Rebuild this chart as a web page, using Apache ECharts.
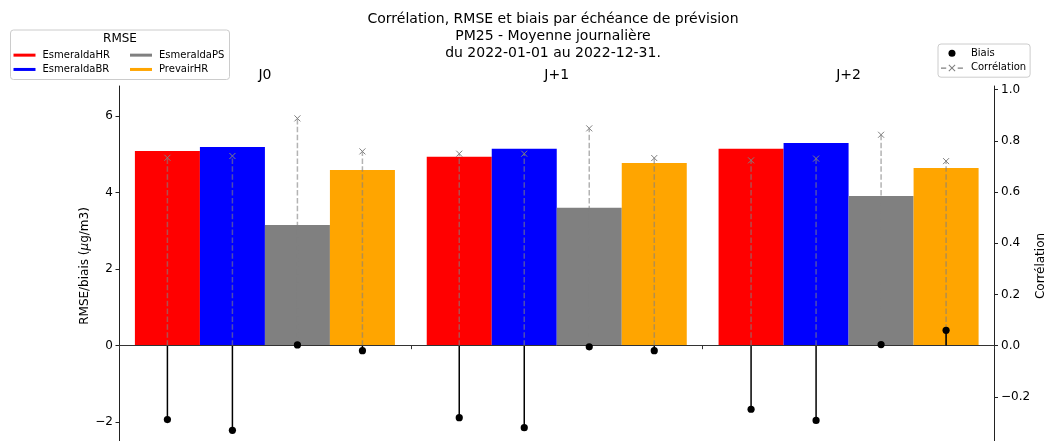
<!DOCTYPE html>
<html>
<head>
<meta charset="utf-8">
<script src="https://cdn.jsdelivr.net/npm/echarts@6/dist/echarts.min.js"></script>
<style>
html,body{margin:0;padding:0;background:#fff;}
#chart{width:1046px;height:441px;}
</style>
</head>
<body>
<div id="chart"></div>
<script>
// ---- data ----
const categories = ['J0', 'J+1', 'J+2'];
const models = ['EsmeraldaHR', 'EsmeraldaBR', 'EsmeraldaPS', 'PrevairHR'];

const rmseEsmeraldaHR = [5.08, 4.93, 5.14];
const rmseEsmeraldaBR = [5.19, 5.14, 5.29];
const rmseEsmeraldaPS = [3.15, 3.60, 3.91];
const rmsePrevairHR   = [4.59, 4.77, 4.64];

const biaisEsmeraldaHR = [-1.93, -1.88, -1.66];
const biaisEsmeraldaBR = [-2.21, -2.14, -1.95];
const biaisEsmeraldaPS = [0.02, -0.03, 0.03];
const biaisPrevairHR   = [-0.13, -0.13, 0.40];

const corrEsmeraldaHR = [0.734, 0.750, 0.724];
const corrEsmeraldaBR = [0.741, 0.750, 0.731];
const corrEsmeraldaPS = [0.888, 0.849, 0.824];
const corrPrevairHR   = [0.759, 0.733, 0.721];

const leftTicks  = [-2, 0, 2, 4, 6];
const rightTicks = [-0.2, 0.0, 0.2, 0.4, 0.6, 0.8, 1.0];

// ---- styling ----
const FONT = 'DejaVu Sans';
const modelColors = ['#ff0000', '#0000ff', '#808080', '#ffa500'];
const GAP = 0.109;

const rmse  = [rmseEsmeraldaHR, rmseEsmeraldaBR, rmseEsmeraldaPS, rmsePrevairHR];
const biais = [biaisEsmeraldaHR, biaisEsmeraldaBR, biaisEsmeraldaPS, biaisPrevairHR];
const corr  = [corrEsmeraldaHR, corrEsmeraldaBR, corrEsmeraldaPS, corrPrevairHR];

function triples(arrs) {
  const out = [];
  arrs.forEach((a, k) => a.forEach((v, i) => out.push([i, k, v])));
  return out;
}
function barWidth(api) {
  const band = api.size([1, 0])[0];
  return band * (1 - GAP) / 4;
}
const minus = s => String(s).replace('-', '\u2212');

const chart = echarts.init(document.getElementById('chart'), null, { renderer: 'canvas', width: 1046, height: 441 });

const barSeries = models.map((m, k) => ({
  name: m,
  type: 'bar',
  xAxisIndex: 0,
  yAxisIndex: 0,
  data: rmse[k],
  barGap: '0%',
  barCategoryGap: (GAP * 100) + '%',
  itemStyle: { color: modelColors[k] },
  emphasis: { disabled: true },
  z: 2
}));

const corrSeries = {
  name: 'Corrélation',
  type: 'custom',
  xAxisIndex: 0,
  yAxisIndex: 1,
  data: triples(corr),
  encode: { x: 0, y: 2 },
  z: 4,
  itemStyle: { color: '#808080' },
  renderItem: function (params, api) {
    const cat = api.value(0), k = api.value(1), v = api.value(2);
    const base = api.coord([cat, 0]);
    const top = api.coord([cat, v]);
    const x = base[0] + (k - 1.5) * barWidth(api);
    const r = 3;
    return {
      type: 'group',
      children: [
        { type: 'line', shape: { x1: x, y1: base[1], x2: x, y2: top[1] },
          style: { stroke: 'rgba(128,128,128,0.6)', lineWidth: 1.5, lineDash: [5.5, 2.4] } },
        { type: 'line', shape: { x1: x - r, y1: top[1] - r, x2: x + r, y2: top[1] + r },
          style: { stroke: '#808080', lineWidth: 1 } },
        { type: 'line', shape: { x1: x - r, y1: top[1] + r, x2: x + r, y2: top[1] - r },
          style: { stroke: '#808080', lineWidth: 1 } }
      ]
    };
  }
};

const biaisSeries = {
  name: 'Biais',
  type: 'custom',
  xAxisIndex: 0,
  yAxisIndex: 0,
  data: triples(biais),
  encode: { x: 0, y: 2 },
  z: 5,
  itemStyle: { color: '#000' },
  renderItem: function (params, api) {
    const cat = api.value(0), k = api.value(1), v = api.value(2);
    const base = api.coord([cat, 0]);
    const top = api.coord([cat, v]);
    const x = base[0] + (k - 1.5) * barWidth(api);
    return {
      type: 'group',
      children: [
        { type: 'line', shape: { x1: x, y1: base[1], x2: x, y2: top[1] },
          style: { stroke: '#000', lineWidth: 1.5 } },
        { type: 'circle', shape: { cx: x, cy: top[1], r: 3.6 },
          style: { fill: '#000' } }
      ]
    };
  }
};

const corrIcon = 'path://M0,3h5v1.2h-5z M16,3h5v1.2h-5z ' +
  'M7.85,0.15L13.85,6.15L13.15,6.85L7.15,0.85Z ' +
  'M13.85,0.85L7.85,6.85L7.15,6.15L13.15,0.15Z';

const legendText = { fontFamily: FONT, fontSize: 10, color: '#000', lineHeight: 14.3, padding: [0, 0, 0, 2] };

const option = {
  animation: false,
  backgroundColor: '#fff',
  textStyle: { fontFamily: FONT },
  title: {
    text: 'Corrélation, RMSE et biais par échéance de prévision\nPM25 - Moyenne journalière\ndu 2022-01-01 au 2022-12-31.',
    left: 553,
    top: 11,
    padding: 0,
    textAlign: 'center',
    textStyle: { fontFamily: FONT, fontSize: 14, fontWeight: 'normal', color: '#000', lineHeight: 17 }
  },
  graphic: [
    { type: 'rect', z: 0, shape: { x: 10.5, y: 30, width: 219, height: 49.5, r: 3 },
      style: { fill: 'rgba(255,255,255,0.8)', stroke: '#cccccc', lineWidth: 1 } },
    { type: 'text', z: 1, x: 120, y: 39,
      style: { text: 'RMSE', fontFamily: FONT, fontSize: 12, fill: '#000', align: 'center', verticalAlign: 'middle' } }
  ],
  legend: [
    {
      data: [models[0], models[1]],
      orient: 'vertical', left: 13.5, top: 48, padding: 0, itemGap: 0,
      itemWidth: 22, itemHeight: 3, icon: 'rect', selectedMode: false,
      textStyle: legendText
    },
    {
      data: [models[2], models[3]],
      orient: 'vertical', left: 130, top: 48, padding: 0, itemGap: 0,
      itemWidth: 22, itemHeight: 3, icon: 'rect', selectedMode: false,
      textStyle: legendText
    },
    {
      data: [
        { name: 'Biais', icon: 'circle', itemStyle: { color: '#000' } },
        { name: 'Corrélation', icon: corrIcon, itemStyle: { color: '#808080' } }
      ],
      orient: 'vertical', left: 938, top: 44, padding: [2, 4, 2, 3], itemGap: 0,
      itemWidth: 22, itemHeight: 7, selectedMode: false,
      backgroundColor: 'rgba(255,255,255,0.8)', borderColor: '#cccccc', borderWidth: 1, borderRadius: 3,
      textStyle: { fontFamily: FONT, fontSize: 10, color: '#000', lineHeight: 14.6, padding: [0, 0, 0, 3] }
    }
  ],
  grid: { left: 119, right: 51.5, top: 86, height: 360, containLabel: false, outerBoundsMode: 'none' },
  xAxis: [
    {
      type: 'category',
      data: categories,
      position: 'bottom',
      z: 3,
      axisLine: { show: true, onZero: true, lineStyle: { color: '#333', width: 1 } },
      axisTick: { show: true, length: 3.5, interval: 0, lineStyle: { color: '#333', width: 1 } },
      axisLabel: { show: false },
      splitLine: { show: false }
    },
    {
      type: 'category',
      data: categories,
      position: 'top',
      axisLine: { show: false, onZero: false },
      axisTick: { show: false },
      axisLabel: { show: true, margin: 4, fontFamily: FONT, fontSize: 14, color: '#000' },
      splitLine: { show: false }
    }
  ],
  yAxis: [
    {
      type: 'value',
      position: 'left',
      min: -2.619,
      max: 6.78,
      name: 'RMSE/biais ({i|\u03bc}g/m3)',
      nameLocation: 'middle',
      nameGap: 28,
      nameMoveOverlap: false,
      nameTextStyle: { fontFamily: FONT, fontSize: 12, color: '#000',
        rich: { i: { fontFamily: FONT, fontSize: 12, fontStyle: 'italic', color: '#000' } } },
      axisLine: { show: true, onZero: false, lineStyle: { color: '#222', width: 1 } },
      axisTick: { show: true, length: 3.5, customValues: leftTicks, lineStyle: { color: '#222' } },
      axisLabel: { show: true, margin: 6, customValues: leftTicks, fontFamily: FONT, fontSize: 12, color: '#000',
        formatter: v => minus(Math.round(v)) },
      splitLine: { show: false }
    },
    {
      type: 'value',
      position: 'right',
      min: -0.392,
      max: 1.0145,
      name: 'Corrélation',
      nameLocation: 'middle',
      nameGap: 40,
      nameMoveOverlap: false,
      nameTextStyle: { fontFamily: FONT, fontSize: 12, color: '#000' },
      axisLine: { show: true, onZero: false, lineStyle: { color: '#222', width: 1 } },
      axisTick: { show: true, length: 3.5, customValues: rightTicks, lineStyle: { color: '#222' } },
      axisLabel: { show: true, margin: 6.5, customValues: rightTicks, fontFamily: FONT, fontSize: 12, color: '#000',
        formatter: v => minus(Number(v).toFixed(1)) },
      splitLine: { show: false }
    }
  ],
  series: barSeries.concat([corrSeries, biaisSeries])
};

chart.setOption(option);
</script>
</body>
</html>
